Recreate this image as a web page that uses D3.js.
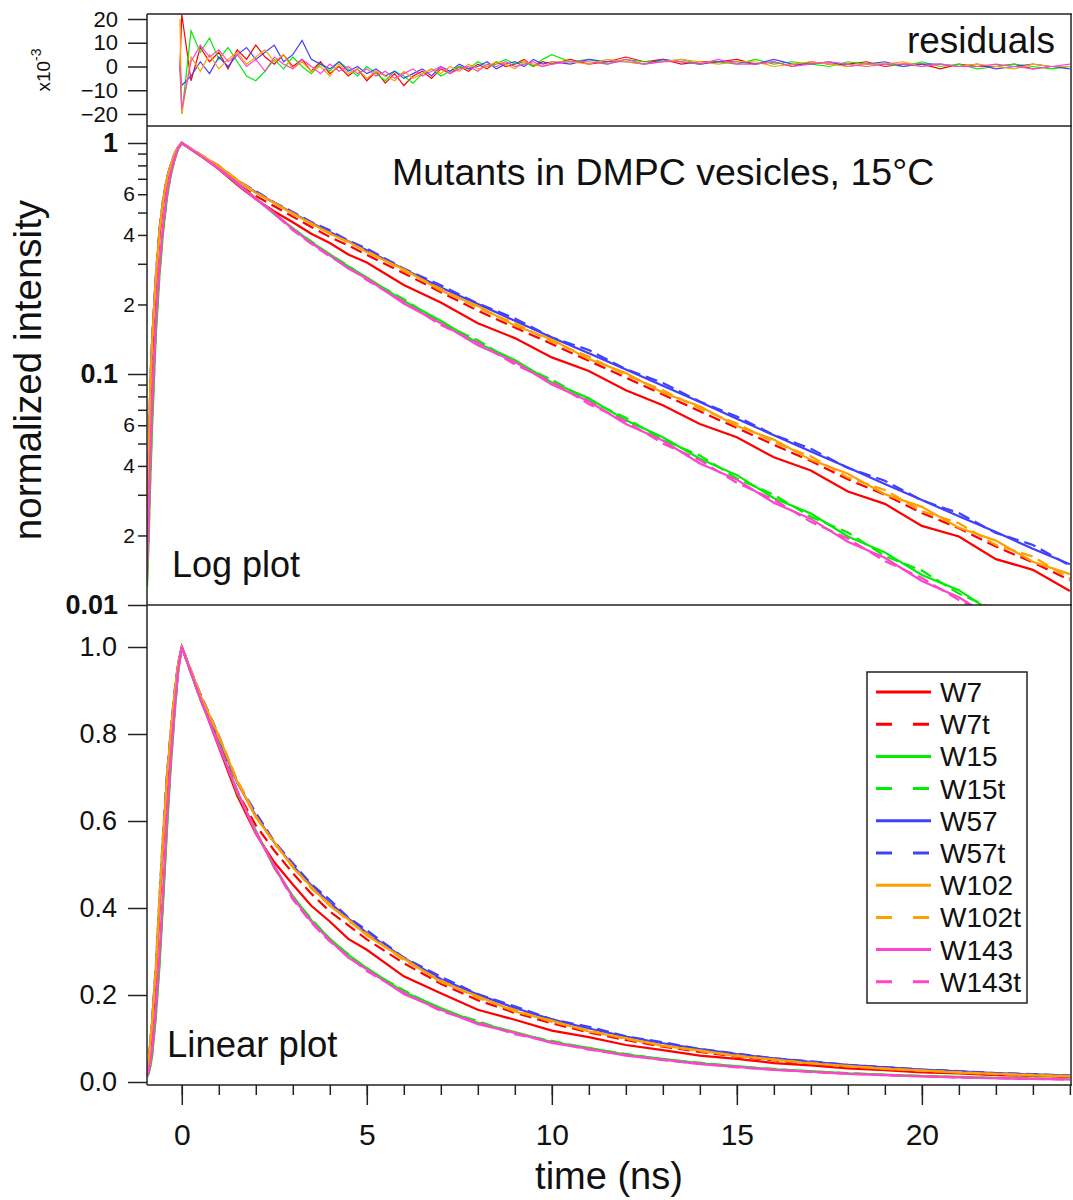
<!DOCTYPE html>
<html>
<head>
<meta charset="utf-8">
<script src="https://cdn.jsdelivr.net/npm/d3@7"></script>
<style>
body { margin: 0; background: #fff; }
text { font-family: "Liberation Sans", Arial, sans-serif; fill: #111; }
</style>
</head>
<body>
<div class="canva"></div>
<script>
// time axis (ns) for the decay curves
const times = [-0.94,-0.9,-0.85,-0.8,-0.7,-0.6,-0.5,-0.4,-0.3,-0.2,-0.1,0,
  0.5,1,1.5,2,2.5,3,3.5,4,4.5,5,6,7,8,9,10,11,12,13,14,15,16,17,18,19,20,21,22,23,24];

// normalized intensity, one array per mutant
const W7 = [0.016,0.030,0.075,0.12,0.24,0.40,0.55,0.68,0.79,0.88,0.955,1.0,
  0.883,0.770,0.658,0.571,0.505,0.454,0.405,0.369,0.329,0.304,0.243,0.204,0.166,0.143,0.118,0.103,0.0850,0.0732,0.0608,0.0532,0.0436,0.0382,0.0310,0.0274,0.0220,0.0198,0.0158,0.0142,0.0115];
const W7t = [0.017,0.032,0.08,0.13,0.25,0.41,0.56,0.69,0.795,0.885,0.958,1.0,
  0.888,0.785,0.668,0.590,0.532,0.480,0.433,0.392,0.360,0.328,0.273,0.226,0.188,0.159,0.135,0.114,0.0965,0.0815,0.0690,0.0584,0.0494,0.0420,0.0350,0.0300,0.0250,0.0215,0.0179,0.0153,0.0128];
const W15 = [0.012,0.018,0.035,0.06,0.15,0.27,0.42,0.58,0.72,0.84,0.94,1.0,
  0.879,0.778,0.665,0.578,0.492,0.428,0.372,0.330,0.292,0.262,0.207,0.170,0.136,0.115,0.0920,0.0785,0.0630,0.0532,0.0430,0.0365,0.0290,0.0249,0.0198,0.0169,0.0135,0.0116,0.0091,0.0079,0.0063];
const W15t = [0.013,0.02,0.038,0.065,0.155,0.28,0.43,0.59,0.73,0.845,0.942,1.0,
  0.884,0.775,0.668,0.575,0.496,0.425,0.375,0.328,0.294,0.258,0.211,0.166,0.140,0.112,0.0945,0.0768,0.0646,0.0518,0.0444,0.0353,0.0300,0.0241,0.0206,0.0163,0.0141,0.0112,0.0095,0.0077,0.0065];
const W57 = [0.018,0.035,0.09,0.14,0.26,0.42,0.57,0.70,0.80,0.89,0.96,1.0,
  0.888,0.790,0.688,0.612,0.551,0.497,0.452,0.412,0.376,0.343,0.285,0.237,0.201,0.170,0.144,0.123,0.1045,0.0890,0.0757,0.0640,0.0543,0.0462,0.0394,0.0334,0.0285,0.0242,0.0207,0.0175,0.0150];
const W57t = [0.02,0.038,0.095,0.145,0.27,0.43,0.58,0.71,0.805,0.895,0.962,1.0,
  0.893,0.797,0.690,0.619,0.553,0.503,0.455,0.419,0.378,0.349,0.286,0.242,0.202,0.174,0.144,0.127,0.105,0.0915,0.0760,0.0655,0.0545,0.0475,0.0392,0.0345,0.0284,0.0250,0.0205,0.0182,0.0148];
const W102 = [0.019,0.036,0.09,0.14,0.26,0.42,0.57,0.70,0.80,0.89,0.96,1.0,
  0.890,0.796,0.690,0.608,0.552,0.493,0.449,0.405,0.374,0.337,0.284,0.230,0.197,0.162,0.141,0.116,0.101,0.0830,0.0725,0.0595,0.0520,0.0425,0.0370,0.0302,0.0266,0.0216,0.0190,0.0154,0.0136];
const W102t = [0.017,0.034,0.085,0.135,0.255,0.415,0.565,0.695,0.80,0.888,0.958,1.0,
  0.892,0.792,0.694,0.612,0.548,0.497,0.445,0.409,0.370,0.341,0.280,0.234,0.193,0.166,0.138,0.119,0.099,0.0850,0.0708,0.0610,0.0506,0.0440,0.0356,0.0315,0.0255,0.0226,0.0182,0.0162,0.0130];
const W143 = [0.014,0.022,0.045,0.075,0.17,0.30,0.45,0.61,0.74,0.85,0.945,1.0,
  0.882,0.772,0.670,0.572,0.497,0.424,0.369,0.326,0.286,0.259,0.202,0.166,0.133,0.113,0.0900,0.0762,0.0608,0.0515,0.0410,0.0349,0.0277,0.0236,0.0188,0.0160,0.0127,0.0108,0.0086,0.0073,0.0058];
const W143t = [0.013,0.021,0.042,0.07,0.165,0.29,0.44,0.60,0.735,0.848,0.944,1.0,
  0.880,0.777,0.666,0.577,0.494,0.420,0.366,0.323,0.290,0.255,0.206,0.163,0.137,0.110,0.0925,0.0742,0.0625,0.0500,0.0424,0.0338,0.0286,0.0229,0.0194,0.0155,0.0131,0.0105,0.0088,0.0071,0.0060];

// residuals (x10^-3)
const resTimes = [-0.05,0,0.25,0.5,0.75,1,1.25,1.5,1.75,2,2.25,2.5,2.75,3,3.25,3.5,3.75,4,4.25,4.5,4.75,5,
  5.25,5.5,5.75,6,6.25,6.5,6.75,7,7.25,7.5,7.75,8,8.25,8.5,8.75,9,9.25,9.5,9.75,10,
  10.5,11,11.5,12,12.5,13,13.5,14,14.5,15,15.5,16,16.5,17,17.5,18,18.5,19,19.5,20,20.5,21,21.5,22,22.5,23,23.5,24];
const resW7 = [0,22,-6,8,2,6,-1,7,3,9,4,1,5,0,3,-2,2,-3,0,-4,-1,-6,-2,-7,-3,-8,-4,-2,-5,-1,-3,0,-2,1,-1,2,0,1,3,0,2,1,
  3,1,2,4,2,3,1,2,2,3,1,2,0,2,1,1,2,0,1,1,-1,1,0,0,1,-1,0,0];
const resW15 = [0,-20,15,6,12,3,8,2,-4,-6,-2,3,-1,4,0,-3,1,-2,2,-1,-4,0,-3,-6,-2,-4,-7,-3,-1,-4,-2,0,-1,2,0,1,3,1,2,0,3,5,
  2,3,1,3,2,2,3,1,2,1,3,1,2,1,0,2,1,1,0,2,0,1,-1,0,1,0,-1,0];
const resW57 = [0,-8,-4,2,-3,4,0,5,8,3,6,9,2,5,11,3,1,-1,2,-2,0,-3,-1,-4,-2,-5,-3,-1,-4,0,-2,1,-1,0,2,-1,1,2,0,3,1,2,
  1,3,2,2,1,3,2,1,2,2,1,3,1,1,2,0,1,2,0,1,1,0,1,-1,0,1,0,-1];
const resW102 = [20,-20,4,-2,5,-1,3,6,1,4,7,2,5,-1,2,-2,0,-4,1,-3,-1,-5,-2,-4,-6,-2,-5,-3,-1,-3,0,-2,1,-1,0,2,1,-1,2,1,0,2,
  2,1,3,2,1,2,3,2,1,2,2,0,1,2,1,0,1,1,2,0,1,0,1,0,-1,1,0,0];
const resW143 = [0,-18,2,9,4,7,2,5,0,3,-2,4,1,-1,3,0,-3,1,-2,0,-3,-1,-4,-2,-5,-3,-1,-4,-2,0,-3,-1,0,-2,1,0,2,0,1,2,0,1,
  2,2,1,3,1,2,2,1,3,1,1,2,0,1,2,1,0,1,1,0,1,0,0,1,0,-1,0,1];

const seriesNames = ["W7","W7t","W15","W15t","W57","W57t","W102","W102t","W143","W143t"];
const seriesData = [W7,W7t,W15,W15t,W57,W57t,W102,W102t,W143,W143t];
const residualData = [resW7,resW15,resW57,resW102,resW143];

// tick values
const resTicks = [-20,-10,0,10,20];
const logMajor = [1,0.1,0.01];
const logMinorLabeled = [0.6,0.4,0.2,0.06,0.04,0.02];
const logMinorLabels = ["6","4","2","6","4","2"];
const logMinor = [0.9,0.8,0.7,0.5,0.3,0.09,0.08,0.07,0.05,0.03];
const linTicks = [0,0.2,0.4,0.6,0.8,1.0];
const xMajor = [0,5,10,15,20];
const xMinor = d3.range(0,25);

// styles
const colors = ["#ff0000","#ff0000","#00ee00","#00ee00","#4040ff","#4040ff","#ffa000","#ffa000","#ff44cc","#ff44cc"];
const resColors = ["#ff0000","#00ee00","#4040ff","#ffa000","#ff44cc"];
const dashed = [false,true,false,true,false,true,false,true,false,true];

const svg = d3.select(".canva").append("svg")
  .attr("width", 1073)
  .attr("height", 1200);

const L = 147, R = 1071;
const panels = {res:[14,126], log:[126,605], lin:[605,1085]};

const x = d3.scaleLinear().domain([-0.94, 24.03]).range([L, R]);
const yRes = d3.scaleLinear().domain([-20, 20]).range([114, 19]);
const yLog = d3.scaleLog().domain([0.01, 1]).range([605, 143]);
const yLin = d3.scaleLinear().domain([0, 1]).range([1082, 647]);

// clip each panel
const defs = svg.append("defs");
Object.keys(panels).forEach(k => {
  defs.append("clipPath").attr("id", "clip-" + k)
    .append("rect")
    .attr("x", L).attr("y", panels[k][0])
    .attr("width", R - L).attr("height", panels[k][1] - panels[k][0]);
});

// residuals
const resG = svg.append("g").attr("clip-path", "url(#clip-res)");
const resLine = d3.line().x((d,i) => x(resTimes[i])).y(d => yRes(d));
residualData.forEach((arr, k) => {
  resG.append("path")
    .datum(arr)
    .attr("d", resLine)
    .attr("fill", "none")
    .attr("stroke", resColors[k])
    .attr("stroke-width", 1.2);
});

// log plot
const logG = svg.append("g").attr("clip-path", "url(#clip-log)");
const logLine = d3.line().x((d,i) => x(times[i])).y(d => yLog(Math.max(d, 0.003)));
// linear plot
const linG = svg.append("g").attr("clip-path", "url(#clip-lin)");
const linLine = d3.line().x((d,i) => x(times[i])).y(d => yLin(d));

seriesData.forEach((arr, k) => {
  [[logG, logLine], [linG, linLine]].forEach(p => {
    p[0].append("path")
      .datum(arr)
      .attr("d", p[1])
      .attr("fill", "none")
      .attr("stroke", colors[k])
      .attr("stroke-width", 2.2)
      .attr("stroke-dasharray", dashed[k] ? "12,6" : null);
  });
});

// frames
const frame = svg.append("g").attr("stroke", "#222").attr("stroke-width", 1.5);
frame.append("line").attr("x1", L).attr("x2", L).attr("y1", 14).attr("y2", 1085);
frame.append("line").attr("x1", R).attr("x2", R).attr("y1", 14).attr("y2", 1085);
[14, 126, 605, 1085].forEach(yy => {
  frame.append("line").attr("x1", L).attr("x2", R + 1).attr("y1", yy).attr("y2", yy);
});

function styleAxis(g, size, weight) {
  g.select(".domain").remove();
  g.selectAll(".tick line").attr("stroke", "#222").attr("stroke-width", 1.5);
  g.selectAll(".tick text")
    .style("font-size", size + "px")
    .style("font-weight", weight || "normal")
    .attr("fill", "#111");
}

// residual axis
svg.append("g").attr("transform", `translate(${L},0)`)
  .call(d3.axisLeft(yRes).tickValues(resTicks).tickSize(19).tickPadding(10))
  .call(g => styleAxis(g, 22));

// log axis
svg.append("g").attr("transform", `translate(${L},0)`)
  .call(d3.axisLeft(yLog).tickValues(logMajor).tickSize(19).tickPadding(10)
    .tickFormat(d => d === 1 ? "1" : String(d)))
  .call(g => styleAxis(g, 27, "bold"));
svg.append("g").attr("transform", `translate(${L},0)`)
  .call(d3.axisLeft(yLog).tickValues(logMinorLabeled).tickSize(9).tickPadding(3)
    .tickFormat((d,i) => logMinorLabels[i]))
  .call(g => styleAxis(g, 21));
svg.append("g").attr("transform", `translate(${L},0)`)
  .call(d3.axisLeft(yLog).tickValues(logMinor).tickSize(9).tickFormat(""))
  .call(g => styleAxis(g, 21));

// linear axis
svg.append("g").attr("transform", `translate(${L},0)`)
  .call(d3.axisLeft(yLin).tickValues(linTicks).tickSize(19).tickPadding(11)
    .tickFormat(d3.format(".1f")))
  .call(g => styleAxis(g, 27));

// x axis
svg.append("g").attr("transform", "translate(0,1085)")
  .call(d3.axisBottom(x).tickValues(xMinor).tickSize(10).tickFormat(""))
  .call(g => styleAxis(g, 30));
svg.append("g").attr("transform", "translate(0,1085)")
  .call(d3.axisBottom(x).tickValues(xMajor).tickSize(20).tickPadding(19))
  .call(g => styleAxis(g, 30));

// texts
svg.append("text").attr("x", 609).attr("y", 1189)
  .attr("text-anchor", "middle").style("font-size", "38px").text("time (ns)");
svg.append("text").attr("transform", "translate(41,370) rotate(-90)")
  .attr("text-anchor", "middle").style("font-size", "38.5px").text("normalized intensity");
const exp = svg.append("text").attr("transform", "translate(50,70) rotate(-90)")
  .attr("text-anchor", "middle").style("font-size", "19px");
exp.append("tspan").text("x10");
exp.append("tspan").attr("dy", -9).style("font-size", "14px").text("-3");

svg.append("text").attr("x", 1055).attr("y", 53)
  .attr("text-anchor", "end").style("font-size", "37px").text("residuals");
svg.append("text").attr("x", 392).attr("y", 185)
  .style("font-size", "37.5px").text("Mutants in DMPC vesicles, 15°C");
svg.append("text").attr("x", 172).attr("y", 577)
  .style("font-size", "36px").text("Log plot");
svg.append("text").attr("x", 167).attr("y", 1057)
  .style("font-size", "36.5px").text("Linear plot");

// legend
const legend = svg.append("g");
legend.append("rect")
  .attr("x", 867).attr("y", 672).attr("width", 160).attr("height", 331)
  .attr("fill", "#fff").attr("stroke", "#222").attr("stroke-width", 1.5);
seriesNames.forEach((name, i) => {
  const yy = 692 + i * 32.2;
  legend.append("line")
    .attr("x1", 876).attr("x2", 931).attr("y1", yy).attr("y2", yy)
    .attr("stroke", colors[i]).attr("stroke-width", 3)
    .attr("stroke-dasharray", dashed[i] ? "16,21" : null);
  legend.append("text")
    .attr("x", 940).attr("y", yy).attr("dy", "0.36em")
    .style("font-size", "28px").attr("fill", "#333").text(name);
});
</script>
</body>
</html>
